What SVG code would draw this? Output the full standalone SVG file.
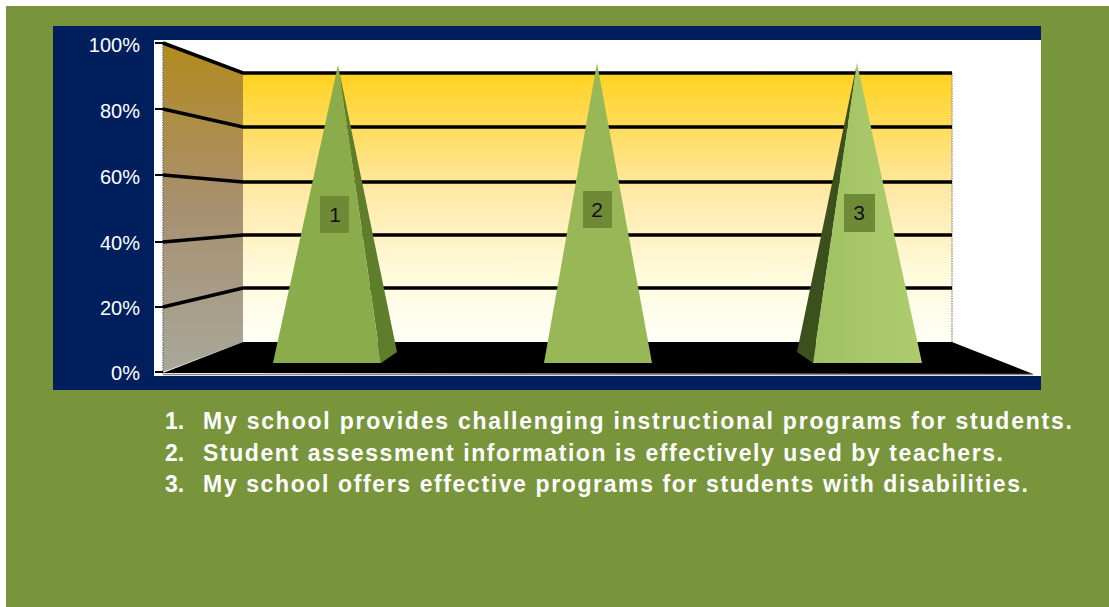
<svg xmlns="http://www.w3.org/2000/svg" width="1109" height="607" viewBox="0 0 1109 607">
<defs>
<linearGradient id="backGrad" x1="0" y1="0" x2="0" y2="1">
<stop offset="0" stop-color="#ffd21f"/>
<stop offset="0.45" stop-color="#ffe9a8"/>
<stop offset="0.75" stop-color="#fffbdc"/>
<stop offset="1" stop-color="#fffff6"/>
</linearGradient>
<linearGradient id="sideGrad" x1="0" y1="0" x2="0" y2="1">
<stop offset="0" stop-color="#b38a1e"/>
<stop offset="0.5" stop-color="#a89070"/>
<stop offset="1" stop-color="#a8a89a"/>
</linearGradient>
<linearGradient id="p3Grad" x1="0" y1="0" x2="1" y2="0">
<stop offset="0" stop-color="#a0c262"/>
<stop offset="1" stop-color="#aecc6e"/>
</linearGradient>
<style>
.axis{font-family:"Liberation Sans",Arial,sans-serif;font-size:20px;fill:#ffffff;text-anchor:end}
.grid{stroke:#000;stroke-width:3.5;fill:none}
.lbl{fill:#6f8a36}
.lbltxt{font-family:"Liberation Sans",Arial,sans-serif;font-size:21px;fill:#111;text-anchor:middle}
.leg{font-family:"Liberation Sans",Arial,sans-serif;font-size:23px;font-weight:bold;fill:#ffffff}
.tick{stroke:#000;stroke-width:2}
</style>
</defs>
<rect x="0" y="0" width="1109" height="607" fill="#ffffff"/>
<rect x="6" y="6" width="1103" height="601" fill="#79953c"/>
<g id="chart">
<rect x="53" y="26" width="988" height="364" fill="#001f5c"/>
<rect x="154" y="40" width="887" height="336" fill="#ffffff"/>
<polygon points="163,43 243,73 243,342 163,372" fill="url(#sideGrad)"/>
<rect x="243" y="73" width="709" height="269" fill="url(#backGrad)"/>
<polygon points="163,373 243,342 952,342 1033,374" fill="#000"/>
<line x1="163" y1="374.5" x2="1033" y2="374.5" stroke="#888" stroke-width="1.5"/>
<line x1="163" y1="42" x2="163" y2="374" stroke="#777" stroke-width="1.5" stroke-dasharray="1.5,1"/>
<line x1="952" y1="73" x2="952" y2="342" stroke="#999" stroke-width="1.5" stroke-dasharray="1.5,1"/>
<g id="gridlines">
<polyline class="grid" points="163,43 243,73 952,73"/>
<polyline class="grid" points="163,109 243,127 952,127"/>
<polyline class="grid" points="163,175 243,182 952,182"/>
<polyline class="grid" points="163,242 243,235 952,235"/>
<polyline class="grid" points="163,307 243,288 952,288"/>
<line class="tick" x1="155" y1="43" x2="163" y2="43"/>
<line class="tick" x1="155" y1="109" x2="163" y2="109"/>
<line class="tick" x1="155" y1="175" x2="163" y2="175"/>
<line class="tick" x1="155" y1="242" x2="163" y2="242"/>
<line class="tick" x1="155" y1="307" x2="163" y2="307"/>
<line class="tick" x1="155" y1="372" x2="163" y2="372"/>
</g>
<g id="axis-labels">
<text class="axis" x="140" y="52">100%</text>
<text class="axis" x="140" y="118">80%</text>
<text class="axis" x="140" y="184">60%</text>
<text class="axis" x="140" y="250">40%</text>
<text class="axis" x="140" y="315">20%</text>
<text class="axis" x="140" y="380">0%</text>
</g>
</g>
<g id="pyramid1">
<polygon points="338,65 381,363 397,352" fill="#5e7e2c"/>
<polygon points="338,65 273,363 381,363" fill="#8aac4a"/>
<rect class="lbl" x="320" y="196" width="29" height="37"/>
<text class="lbltxt" x="335" y="222">1</text>
</g>
<g id="pyramid2">
<polygon points="597,63 544,363 652,363" fill="#98b858"/>
<rect class="lbl" x="583" y="191" width="29" height="37"/>
<text class="lbltxt" x="597" y="217">2</text>
</g>
<g id="pyramid3">
<polygon points="857,63 797,352 813,363" fill="#3b501c"/>
<polygon points="857,63 813,363 922,363" fill="url(#p3Grad)"/>
<rect class="lbl" x="844" y="194" width="31" height="38"/>
<text class="lbltxt" x="859" y="220">3</text>
</g>
<g id="legend">
<text class="leg" x="165" y="429">1.</text>
<text class="leg" x="203" y="429" textLength="869" lengthAdjust="spacing">My school provides challenging instructional programs for students.</text>
<text class="leg" x="165" y="461">2.</text>
<text class="leg" x="203" y="461" textLength="800" lengthAdjust="spacing">Student assessment information is effectively used by teachers.</text>
<text class="leg" x="165" y="492">3.</text>
<text class="leg" x="203" y="492" textLength="825" lengthAdjust="spacing">My school offers effective programs for students with disabilities.</text>
</g>
</svg>
